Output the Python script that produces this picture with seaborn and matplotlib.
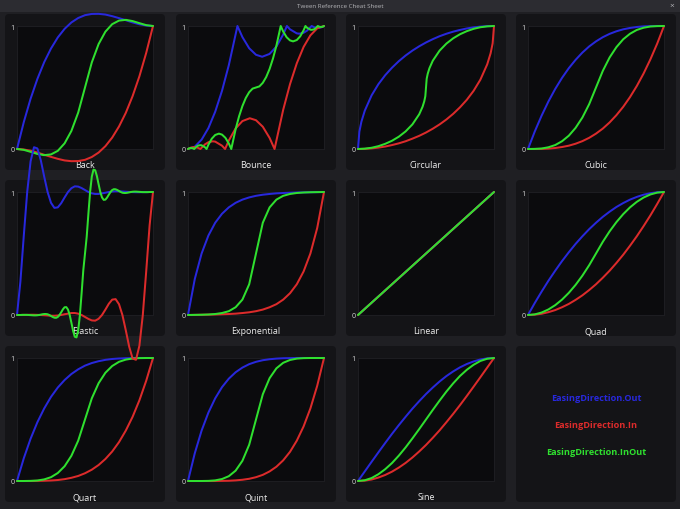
import matplotlib
matplotlib.use("Agg")
import matplotlib.pyplot as plt
import numpy as np
import seaborn as sns
from matplotlib.patches import FancyBboxPatch, Rectangle

# Tween easing curves, values read from the cheat sheet (y vs. progress t in [0, 1])
T21 = np.linspace(0, 1, 21)
T41 = np.linspace(0, 1, 41)
T81 = np.linspace(0, 1, 81)

back_out = [0, 0.219, 0.409, 0.570, 0.706, 0.817, 0.907, 0.977, 1.029, 1.065, 1.088,
            1.098, 1.099, 1.093, 1.080, 1.064, 1.047, 1.029, 1.014, 1.004, 1]
back_in = [0, -0.004, -0.014, -0.029, -0.047, -0.064, -0.080, -0.093, -0.099, -0.098, -0.088,
           -0.065, -0.029, 0.023, 0.093, 0.183, 0.294, 0.430, 0.591, 0.781, 1]
back_inout = [0, -0.007, -0.023, -0.040, -0.050, -0.044, -0.015, 0.046, 0.147, 0.296, 0.5,
              0.704, 0.853, 0.954, 1.015, 1.044, 1.050, 1.040, 1.023, 1.007, 1]

bounce_out_x = [0, 0.05, 0.1, 0.15, 0.2, 0.25, 0.3, 0.3636, 0.4, 0.45, 0.5, 0.5455, 0.6,
                0.65, 0.7, 0.7273, 0.75, 0.8, 0.8182, 0.85, 0.875, 0.9091, 0.93, 0.9545, 0.98, 1]
bounce_out = [0, 0.019, 0.076, 0.170, 0.303, 0.473, 0.681, 1, 0.910, 0.819, 0.766, 0.75, 0.773,
              0.833, 0.931, 1, 0.973, 0.940, 0.9375, 0.945, 0.962, 1, 0.989, 0.984, 0.989, 1]
bounce_in_x = [0, 0.02, 0.0455, 0.07, 0.0909, 0.125, 0.15, 0.1818, 0.2, 0.25, 0.2727, 0.3,
               0.35, 0.4, 0.4545, 0.5, 0.55, 0.6, 0.6364, 0.7, 0.75, 0.8, 0.85, 0.9, 0.95, 1]
bounce_in = [0, 0.011, 0.016, 0.011, 0, 0.038, 0.055, 0.0625, 0.060, 0.027, 0, 0.069, 0.167,
             0.227, 0.25, 0.234, 0.181, 0.090, 0, 0.319, 0.527, 0.697, 0.830, 0.924, 0.981, 1]
bounce_inout_x = [0, 0.01, 0.0227, 0.035, 0.0455, 0.0625, 0.075, 0.0909, 0.1, 0.125, 0.1364,
                  0.15, 0.175, 0.2, 0.2273, 0.25, 0.275, 0.3, 0.3182, 0.35, 0.375, 0.4, 0.425,
                  0.45, 0.475, 0.5, 0.525, 0.55, 0.575, 0.6, 0.625, 0.65, 0.6818, 0.7, 0.725,
                  0.75, 0.7727, 0.8, 0.825, 0.85, 0.8636, 0.875, 0.9, 0.9091, 0.925, 0.9375,
                  0.9545, 0.965, 0.9773, 0.99, 1]
bounce_inout = [0, 0.006, 0.008, 0.006, 0, 0.019, 0.028, 0.031, 0.030, 0.014, 0, 0.035, 0.084,
                0.114, 0.125, 0.117, 0.091, 0.045, 0, 0.160, 0.264, 0.349, 0.415, 0.462, 0.491,
                0.5, 0.509, 0.538, 0.585, 0.651, 0.736, 0.840, 1, 0.955, 0.909, 0.883, 0.875,
                0.886, 0.916, 0.965, 1, 0.986, 0.970, 0.969, 0.972, 0.981, 1, 0.994, 0.992,
                0.994, 1]

circ_out_x = [0, 0.01, 0.025, 0.05, 0.1, 0.15, 0.2, 0.25, 0.3, 0.35, 0.4, 0.45, 0.5, 0.55,
              0.6, 0.65, 0.7, 0.75, 0.8, 0.85, 0.9, 0.95, 1]
circ_out = [0, 0.141, 0.222, 0.312, 0.436, 0.527, 0.6, 0.661, 0.714, 0.760, 0.8, 0.835, 0.866,
            0.893, 0.917, 0.937, 0.954, 0.968, 0.980, 0.989, 0.995, 0.999, 1]
circ_in_x = [0, 0.05, 0.1, 0.15, 0.2, 0.25, 0.3, 0.35, 0.4, 0.45, 0.5, 0.55, 0.6, 0.65, 0.7,
             0.75, 0.8, 0.85, 0.9, 0.95, 0.975, 0.99, 1]
circ_in = [0, 0.001, 0.005, 0.011, 0.020, 0.032, 0.046, 0.063, 0.084, 0.107, 0.134, 0.165, 0.2,
           0.240, 0.286, 0.339, 0.4, 0.473, 0.564, 0.688, 0.778, 0.859, 1]
circ_inout_x = [0, 0.05, 0.1, 0.15, 0.2, 0.25, 0.3, 0.35, 0.4, 0.45, 0.475, 0.4875, 0.495, 0.5,
                0.505, 0.5125, 0.525, 0.55, 0.6, 0.65, 0.7, 0.75, 0.8, 0.85, 0.9, 0.95, 1]
circ_inout = [0, 0.003, 0.010, 0.023, 0.042, 0.067, 0.1, 0.143, 0.2, 0.282, 0.344, 0.389, 0.429,
              0.5, 0.571, 0.611, 0.656, 0.718, 0.8, 0.857, 0.9, 0.933, 0.958, 0.977, 0.990,
              0.997, 1]

cubic_out = [0, 0.143, 0.271, 0.386, 0.488, 0.578, 0.657, 0.725, 0.784, 0.834, 0.875, 0.909,
             0.936, 0.957, 0.973, 0.984, 0.992, 0.997, 0.999, 1.0, 1]
cubic_in = [0, 0.0, 0.001, 0.003, 0.008, 0.016, 0.027, 0.043, 0.064, 0.091, 0.125, 0.166, 0.216,
            0.275, 0.343, 0.422, 0.512, 0.614, 0.729, 0.857, 1]
cubic_inout = [0, 0.001, 0.004, 0.014, 0.032, 0.063, 0.108, 0.172, 0.256, 0.365, 0.5, 0.635,
               0.744, 0.828, 0.892, 0.937, 0.968, 0.986, 0.996, 0.999, 1]

elastic_out = [0, 0.272, 0.646, 1, 1.25, 1.364, 1.354, 1.258, 1.125, 1, 0.912, 0.871, 0.875,
               0.909, 0.956, 1, 1.031, 1.046, 1.044, 1.032, 1.016, 1, 0.989, 0.984, 0.984,
               0.989, 0.994, 1, 1.004, 1.006, 1.006, 1.004, 1.002, 1, 0.999, 0.998, 0.998,
               0.999, 0.999, 1, 1]
elastic_in = [0, 0, 0.001, 0.001, 0.002, 0.002, 0.001, 0, -0.002, -0.004, -0.006, -0.006,
              -0.004, 0, 0.006, 0.011, 0.016, 0.016, 0.011, 0, -0.016, -0.032, -0.044, -0.046,
              -0.031, 0, 0.044, 0.091, 0.125, 0.129, 0.088, 0, -0.125, -0.258, -0.354, -0.364,
              -0.25, 0, 0.354, 0.728, 1]
elastic_inout = [0, 0, 0, 0.001, 0.001, 0.001, 0.001, 0, -0.001, -0.002, -0.003, -0.003,
                 -0.002, 0, 0.003, 0.006, 0.008, 0.008, 0.006, 0, -0.008, -0.016, -0.022,
                 -0.023, -0.016, 0, 0.022, 0.046, 0.063, 0.064, 0.044, 0, -0.063, -0.129,
                 -0.177, -0.182, -0.125, 0, 0.177, 0.364, 0.5,
                 0.636, 0.823, 1, 1.125, 1.182, 1.177, 1.129, 1.063, 1, 0.956, 0.936, 0.938,
                 0.955, 0.978, 1, 1.016, 1.023, 1.022, 1.016, 1.008, 1, 0.994, 0.992, 0.992,
                 0.994, 0.997, 1, 1.002, 1.003, 1.003, 1.002, 1.001, 1, 0.999, 0.999, 0.999,
                 0.999, 1, 1, 1]

expo_out = [0, 0.293, 0.5, 0.646, 0.75, 0.823, 0.875, 0.912, 0.938, 0.956, 0.969, 0.978, 0.984,
            0.989, 0.992, 0.994, 0.996, 0.997, 0.998, 0.999, 1]
expo_in = [0, 0.001, 0.002, 0.003, 0.004, 0.006, 0.008, 0.011, 0.016, 0.022, 0.031, 0.044,
           0.063, 0.088, 0.125, 0.177, 0.25, 0.354, 0.5, 0.707, 1]
expo_inout = [0, 0.001, 0.002, 0.004, 0.008, 0.016, 0.031, 0.063, 0.125, 0.25, 0.5, 0.75,
              0.875, 0.938, 0.969, 0.984, 0.992, 0.996, 0.998, 0.999, 1]

linear_x = [0, 1]
linear_y = [0, 1]

quad_out = [0, 0.098, 0.19, 0.278, 0.36, 0.438, 0.51, 0.578, 0.64, 0.698, 0.75, 0.798, 0.84,
            0.878, 0.91, 0.938, 0.96, 0.978, 0.99, 0.998, 1]
quad_in = [0, 0.003, 0.01, 0.023, 0.04, 0.063, 0.09, 0.123, 0.16, 0.203, 0.25, 0.303, 0.36,
           0.423, 0.49, 0.563, 0.64, 0.723, 0.81, 0.903, 1]
quad_inout = [0, 0.005, 0.02, 0.045, 0.08, 0.125, 0.18, 0.245, 0.32, 0.405, 0.5, 0.595, 0.68,
              0.755, 0.82, 0.875, 0.92, 0.955, 0.98, 0.995, 1]

quart_out = [0, 0.185, 0.344, 0.478, 0.590, 0.684, 0.760, 0.821, 0.870, 0.908, 0.938, 0.959,
             0.974, 0.985, 0.992, 0.996, 0.998, 0.999, 1, 1, 1]
quart_in = [0, 0, 0, 0.001, 0.002, 0.004, 0.008, 0.015, 0.026, 0.041, 0.063, 0.092, 0.130,
            0.179, 0.240, 0.316, 0.410, 0.522, 0.656, 0.815, 1]
quart_inout = [0, 0, 0.001, 0.004, 0.013, 0.031, 0.065, 0.120, 0.205, 0.328, 0.5, 0.672, 0.795,
               0.880, 0.935, 0.969, 0.987, 0.996, 0.999, 1, 1]

quint_out = [0, 0.226, 0.410, 0.556, 0.672, 0.763, 0.832, 0.884, 0.922, 0.950, 0.969, 0.982,
             0.990, 0.995, 0.998, 0.999, 1, 1, 1, 1, 1]
quint_in = [0, 0, 0, 0, 0, 0.001, 0.002, 0.005, 0.010, 0.018, 0.031, 0.050, 0.078, 0.116, 0.168,
            0.237, 0.328, 0.444, 0.590, 0.774, 1]
quint_inout = [0, 0, 0, 0.001, 0.005, 0.016, 0.039, 0.084, 0.164, 0.295, 0.5, 0.705, 0.836,
               0.916, 0.961, 0.984, 0.995, 0.999, 1, 1, 1]

sine_out = [0, 0.078, 0.156, 0.233, 0.309, 0.383, 0.454, 0.522, 0.588, 0.649, 0.707, 0.760,
            0.809, 0.853, 0.891, 0.924, 0.951, 0.972, 0.988, 0.997, 1]
sine_in = [0, 0.003, 0.012, 0.028, 0.049, 0.076, 0.109, 0.147, 0.191, 0.240, 0.293, 0.351,
           0.412, 0.478, 0.546, 0.617, 0.691, 0.767, 0.844, 0.922, 1]
sine_inout = [0, 0.006, 0.024, 0.055, 0.096, 0.146, 0.206, 0.273, 0.346, 0.422, 0.5, 0.578,
              0.654, 0.727, 0.794, 0.854, 0.904, 0.945, 0.976, 0.994, 1]

styles = ['Back', 'Bounce', 'Circular', 'Cubic', 'Elastic', 'Exponential', 'Linear',
          'Quad', 'Quart', 'Quint', 'Sine']
directions = ['EasingDirection.Out', 'EasingDirection.In', 'EasingDirection.InOut']

# (out, in, inout) pairs of x / y for each style
curves = {
    'Back': [(T21, back_out), (T21, back_in), (T21, back_inout)],
    'Bounce': [(bounce_out_x, bounce_out), (bounce_in_x, bounce_in),
               (bounce_inout_x, bounce_inout)],
    'Circular': [(circ_out_x, circ_out), (circ_in_x, circ_in), (circ_inout_x, circ_inout)],
    'Cubic': [(T21, cubic_out), (T21, cubic_in), (T21, cubic_inout)],
    'Elastic': [(T41, elastic_out), (T41, elastic_in), (T81, elastic_inout)],
    'Exponential': [(T21, expo_out), (T21, expo_in), (T21, expo_inout)],
    'Linear': [(linear_x, linear_y), (linear_x, linear_y), (linear_x, linear_y)],
    'Quad': [(T21, quad_out), (T21, quad_in), (T21, quad_inout)],
    'Quart': [(T21, quart_out), (T21, quart_in), (T21, quart_inout)],
    'Quint': [(T21, quint_out), (T21, quint_in), (T21, quint_inout)],
    'Sine': [(T21, sine_out), (T21, sine_in), (T21, sine_inout)],
}

COLORS = ['#2828dc', '#dc2b2b', '#2fe02f']
WINDOW = '#1f1f23'
PANEL = '#141417'
PLOT = '#0b0b0d'
W, H = 680, 510

sns.set_theme(style='dark')
plt.rcParams['font.family'] = ['Open Sans', 'DejaVu Sans']

fig = plt.figure(figsize=(W / 100, H / 100), dpi=100, facecolor=WINDOW)


def px_rect(x, y, w, h):
    return [x / W, 1 - (y + h) / H, w / W, h / H]


def add_panel(x, y, w, h):
    patch = FancyBboxPatch((x / 100, (H - y - h) / 100), w / 100, h / 100,
                           boxstyle='round,pad=0,rounding_size=0.04',
                           transform=fig.dpi_scale_trans, fc=PANEL, ec='none', zorder=0.5)
    fig.add_artist(patch)


# title bar
fig.add_artist(Rectangle((0, (H - 13) / 100), W / 100, 0.13, transform=fig.dpi_scale_trans,
                         fc='#2c2c31', ec='none', zorder=0.4))
fig.text(0.5, 1 - 6.5 / H, 'Tween Reference Cheat Sheet', ha='center', va='center',
         fontsize=4.5, color='#b4b4b8')
fig.text(1 - 8 / W, 1 - 6.5 / H, '×', ha='center', va='center', fontsize=6, color='#b4b4b8')

COL_LEFT = [5, 176, 346, 516]
ROW_TOP = [15, 181, 347]
PW, PH = 160, 156

for i, name in enumerate(styles):
    col, row = i % 4, i // 4
    px, py = COL_LEFT[col], ROW_TOP[row]
    add_panel(px, py, PW, PH)
    ax = fig.add_axes(px_rect(px + 12, py + 12, 136, 123))
    ax.set_zorder(3 if name == 'Elastic' else 1)
    ax.set_facecolor(PLOT)
    for (x, y), c in zip(curves[name], COLORS):
        sns.lineplot(x=x, y=y, ax=ax, color=c, linewidth=1.45, clip_on=False, zorder=4)
    ax.set_xlim(0, 1)
    ax.set_ylim(0, 1)
    ax.set_xticks([])
    ax.set_yticks([0, 1], labels=['0', '1'])
    ax.tick_params(axis='y', length=0, pad=1.8, labelsize=5.2, labelcolor='#d2d2d2')
    ax.set_xlabel('')
    ax.set_ylabel('')
    ax.grid(False)
    for sp in ax.spines.values():
        sp.set_visible(True)
        sp.set_color('#1d1d21')
        sp.set_linewidth(0.8)
    ax.text(0.5, -0.13, name, transform=ax.transAxes, ha='center', va='center',
            color='#ececec', fontsize=6.4, zorder=1)

# legend panel
add_panel(COL_LEFT[3], ROW_TOP[2], PW, PH)
for j, (label, c) in enumerate(zip(directions, COLORS)):
    fig.text((COL_LEFT[3] + PW / 2) / W, 1 - (399 + 27 * j) / H, label, ha='center',
             va='center', color=c, fontsize=6.6, fontweight='bold')

fig.savefig('out.png', dpi=100, facecolor=WINDOW)
